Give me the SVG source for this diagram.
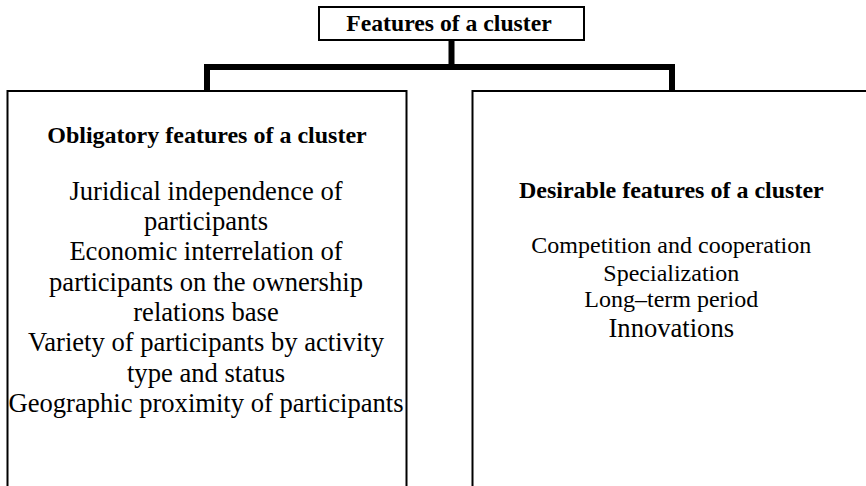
<svg xmlns="http://www.w3.org/2000/svg" width="866" height="486" viewBox="0 0 866 486">
<style>
.box{fill:#fff;stroke:#000;stroke-width:2}
.conn{fill:none;stroke:#000;stroke-width:6}
text{font-family:'Liberation Serif','Times New Roman',serif;fill:#000;text-anchor:middle}
.b{font-weight:bold;font-size:24px}
.r{font-size:26.6px}
.s{font-size:24px}
</style>
<rect width="866" height="486" fill="#fff"/>
<g id="connectors">
<path class="conn" d="M451.5 40 V67 M204 67 H675 M207 67 V91 M672 67 V91"/>
</g>
<g id="root">
<rect class="box" x="319" y="7" width="265" height="33"/>
<text class="b" x="449" y="31" style="font-size:23.7px">Features of a cluster</text>
</g>
<g id="obligatory">
<rect class="box" x="7.5" y="91" width="399" height="400"/>
<text class="b" x="207" y="142.5">Obligatory features of a cluster</text>
<text class="r" x="206" y="199.5">Juridical independence of</text>
<text class="r" x="206" y="229.9">participants</text>
<text class="r" x="206" y="260.2">Economic interrelation of</text>
<text class="r" x="206" y="290.6">participants on the ownership</text>
<text class="r" x="206" y="320.9">relations base</text>
<text class="r" x="206" y="351.3">Variety of participants by activity</text>
<text class="r" x="206" y="381.6">type and status</text>
<text class="r" x="206" y="412">Geographic proximity of participants</text>
</g>
<g id="desirable">
<rect class="box" x="472.5" y="91" width="400" height="400"/>
<text class="b" x="671.3" y="198.3">Desirable features of a cluster</text>
<text class="s" x="671.3" y="253.3">Competition and cooperation</text>
<text class="s" x="671.3" y="280.5">Specialization</text>
<text class="s" x="671.3" y="307">Long–term period</text>
<text class="r" x="671.3" y="337">Innovations</text>
</g>
</svg>
